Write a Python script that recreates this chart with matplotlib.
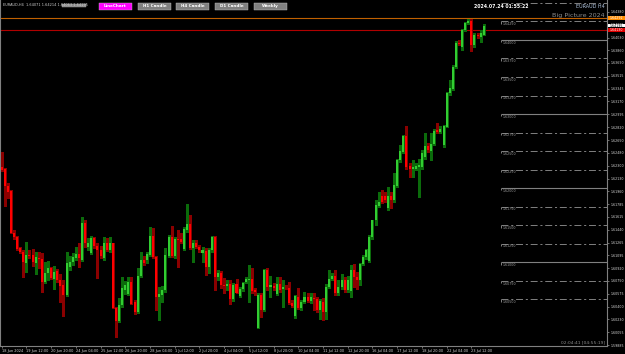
import numpy as np
import matplotlib.pyplot as plt
from matplotlib.patches import Rectangle

plt.rcParams['font.family'] = 'DejaVu Sans'
plt.rcParams['lines.scale_dashes'] = False

# EURAUD H4 candles, 18 Jun 2024 04:00 onwards
opens = [1.62286, 1.62259, 1.62033, 1.61961, 1.61399, 1.61336, 1.61197, 1.61143, 1.60994, 1.61098,
         1.61093, 1.60985, 1.61062, 1.61039, 1.60738, 1.60850, 1.60927, 1.60769, 1.60886, 1.60760,
         1.60693, 1.60558, 1.60931, 1.61008, 1.61053, 1.61111, 1.61030, 1.61534, 1.61201, 1.61120,
         1.61332, 1.61224, 1.61165, 1.61053, 1.61255, 1.61165, 1.61255, 1.60387, 1.60211, 1.60423,
         1.60634, 1.60580, 1.60729, 1.60468, 1.60333, 1.60814, 1.61030, 1.61030, 1.61098, 1.61354,
         1.61066, 1.60535, 1.60558, 1.60625, 1.61084, 1.61345, 1.61084, 1.61309, 1.61309, 1.61174,
         1.61435, 1.61516, 1.61197, 1.61255, 1.61210, 1.61121, 1.61157, 1.60932, 1.61166, 1.61346,
         1.60797, 1.60851, 1.60694, 1.60680, 1.60707, 1.60505, 1.60707, 1.60545, 1.60635, 1.60739,
         1.60761, 1.60775, 1.60626, 1.60118, 1.60559, 1.60356, 1.60896, 1.60671, 1.60685, 1.60572,
         1.60703, 1.60635, 1.60671, 1.60658, 1.60455, 1.60275, 1.60536, 1.60379, 1.60469, 1.60536,
         1.60482, 1.60514, 1.60505, 1.60356, 1.60469, 1.60334, 1.60662, 1.60775, 1.60815, 1.60581,
         1.60662, 1.60761, 1.60626, 1.60615, 1.60894, 1.60804, 1.60768, 1.60984, 1.61074, 1.61020,
         1.61344, 1.61569, 1.61763, 1.61893, 1.61893, 1.61727, 1.61893, 1.61839, 1.62032, 1.62379,
         1.62491, 1.62703, 1.62298, 1.62266, 1.62266, 1.62289, 1.62289, 1.62424, 1.62568, 1.62505,
         1.62595, 1.62784, 1.62761, 1.62581, 1.62829, 1.63279, 1.63338, 1.63639, 1.63963, 1.63909,
         1.64134, 1.64228, 1.64258, 1.63932, 1.64067, 1.64044, 1.64071]
highs = [1.62489, 1.62273, 1.62065, 1.61975, 1.61435, 1.61354, 1.61210, 1.61165, 1.61269, 1.61165,
         1.61174, 1.61143, 1.61134, 1.61129, 1.60999, 1.61017, 1.60940, 1.60954, 1.60904, 1.60841,
         1.60760, 1.61143, 1.61084, 1.61129, 1.61210, 1.61255, 1.61615, 1.61570, 1.61323, 1.61354,
         1.61345, 1.61255, 1.61219, 1.61345, 1.61323, 1.61345, 1.61264, 1.60400, 1.60513, 1.60805,
         1.60751, 1.60805, 1.60805, 1.60490, 1.60918, 1.61143, 1.61084, 1.61143, 1.61471, 1.61467,
         1.61084, 1.60670, 1.60679, 1.61188, 1.61368, 1.61489, 1.61345, 1.61435, 1.61390, 1.61471,
         1.61782, 1.61638, 1.61300, 1.61300, 1.61233, 1.61211, 1.61189, 1.61189, 1.61355, 1.61355,
         1.60896, 1.60887, 1.60783, 1.60761, 1.60761, 1.60716, 1.60770, 1.60671, 1.60738, 1.60806,
         1.60964, 1.60919, 1.60649, 1.60581, 1.60581, 1.60905, 1.60919, 1.60815, 1.60716, 1.60806,
         1.60806, 1.60761, 1.60694, 1.60734, 1.60491, 1.60559, 1.60649, 1.60491, 1.60604, 1.60581,
         1.60581, 1.60581, 1.60536, 1.60500, 1.60514, 1.60707, 1.60896, 1.60851, 1.60896, 1.60761,
         1.60842, 1.60806, 1.60815, 1.60962, 1.60984, 1.60872, 1.60997, 1.61097, 1.61187, 1.61367,
         1.61578, 1.61839, 1.61952, 1.61974, 1.61952, 1.62019, 1.61952, 1.62199, 1.62401, 1.62581,
         1.62717, 1.62838, 1.62334, 1.62379, 1.62334, 1.62401, 1.62514, 1.62739, 1.62604, 1.62739,
         1.62793, 1.62874, 1.62838, 1.62851, 1.63302, 1.63459, 1.63662, 1.63990, 1.63999, 1.64143,
         1.64246, 1.64288, 1.64280, 1.64089, 1.64098, 1.64134, 1.64214]
lows = [1.62232, 1.61764, 1.61868, 1.61390, 1.61309, 1.61165, 1.61129, 1.60805, 1.60873, 1.61053,
        1.60954, 1.60841, 1.60918, 1.60603, 1.60724, 1.60760, 1.60769, 1.60639, 1.60738, 1.60468,
        1.60279, 1.60549, 1.60895, 1.60963, 1.61030, 1.60940, 1.61021, 1.61210, 1.61165, 1.61111,
        1.61188, 1.60783, 1.61053, 1.61030, 1.61156, 1.61143, 1.60378, 1.59995, 1.60198, 1.60400,
        1.60571, 1.60558, 1.60436, 1.60310, 1.60319, 1.60796, 1.60963, 1.60985, 1.61084, 1.61053,
        1.60364, 1.60220, 1.60468, 1.60603, 1.61066, 1.61075, 1.61053, 1.60940, 1.61255, 1.61165,
        1.61413, 1.61174, 1.61008, 1.61188, 1.61143, 1.61008, 1.60828, 1.60851, 1.61144, 1.60626,
        1.60761, 1.60649, 1.60581, 1.60626, 1.60437, 1.60482, 1.60581, 1.60527, 1.60617, 1.60716,
        1.60469, 1.60581, 1.60559, 1.60109, 1.60266, 1.60347, 1.60626, 1.60536, 1.60626, 1.60559,
        1.60604, 1.60401, 1.60635, 1.60437, 1.60401, 1.60244, 1.60365, 1.60356, 1.60446, 1.60469,
        1.60455, 1.60356, 1.60334, 1.60230, 1.60221, 1.60230, 1.60649, 1.60761, 1.60559, 1.60559,
        1.60644, 1.60604, 1.60604, 1.60534, 1.60669, 1.60647, 1.60694, 1.60962, 1.61052, 1.61007,
        1.61322, 1.61502, 1.61749, 1.61803, 1.61817, 1.61713, 1.61727, 1.61817, 1.62019, 1.62356,
        1.62478, 1.62266, 1.62154, 1.62154, 1.62244, 1.61884, 1.62266, 1.62401, 1.62491, 1.62379,
        1.62581, 1.62739, 1.62748, 1.62559, 1.62820, 1.63257, 1.63324, 1.63617, 1.63932, 1.63864,
        1.64125, 1.64215, 1.63855, 1.63909, 1.64022, 1.63977, 1.64063]
closes = [1.62246, 1.62033, 1.61952, 1.61399, 1.61336, 1.61174, 1.61143, 1.60999, 1.61098, 1.61084,
          1.61008, 1.61066, 1.61039, 1.60738, 1.60859, 1.60927, 1.60783, 1.60873, 1.60760, 1.60679,
          1.60558, 1.60985, 1.61008, 1.61066, 1.61111, 1.61053, 1.61525, 1.61255, 1.61255, 1.61332,
          1.61219, 1.61165, 1.61084, 1.61255, 1.61165, 1.61255, 1.60387, 1.60211, 1.60423, 1.60657,
          1.60693, 1.60729, 1.60445, 1.60333, 1.60814, 1.61030, 1.60994, 1.61111, 1.61354, 1.61066,
          1.60535, 1.60571, 1.60634, 1.61093, 1.61345, 1.61084, 1.61309, 1.61300, 1.61278, 1.61453,
          1.61516, 1.61188, 1.61255, 1.61201, 1.61165, 1.61166, 1.60932, 1.61166, 1.61346, 1.60797,
          1.60860, 1.60694, 1.60680, 1.60707, 1.60505, 1.60694, 1.60590, 1.60635, 1.60716, 1.60770,
          1.60775, 1.60617, 1.60604, 1.60559, 1.60356, 1.60896, 1.60671, 1.60694, 1.60658, 1.60707,
          1.60626, 1.60671, 1.60662, 1.60446, 1.60415, 1.60545, 1.60379, 1.60469, 1.60536, 1.60482,
          1.60527, 1.60505, 1.60356, 1.60482, 1.60334, 1.60662, 1.60775, 1.60820, 1.60581, 1.60662,
          1.60761, 1.60626, 1.60761, 1.60894, 1.60804, 1.60759, 1.60984, 1.61074, 1.61164, 1.61344,
          1.61569, 1.61772, 1.61817, 1.61817, 1.61839, 1.61893, 1.61839, 1.62041, 1.62379, 1.62505,
          1.62703, 1.62289, 1.62266, 1.62289, 1.62298, 1.62311, 1.62478, 1.62568, 1.62514, 1.62595,
          1.62775, 1.62761, 1.62793, 1.62838, 1.63279, 1.63347, 1.63639, 1.63963, 1.63945, 1.64134,
          1.64224, 1.64262, 1.63932, 1.64067, 1.64053, 1.64089, 1.64195]

date_labels = ['18 Jun 2024', '19 Jun 12:00', '20 Jun 20:00', '24 Jun 04:00', '25 Jun 12:00',
               '26 Jun 20:00', '28 Jun 04:00', '1 Jul 12:00', '2 Jul 20:00', '4 Jul 04:00',
               '5 Jul 12:00', '8 Jul 20:00', '10 Jul 04:00', '11 Jul 12:00', '12 Jul 20:00',
               '16 Jul 04:00', '17 Jul 12:00', '18 Jul 20:00', '22 Jul 04:00', '23 Jul 12:00']
price_ticks = [1.64380, 1.64205, 1.64030, 1.63860, 1.63690, 1.63515, 1.63345, 1.63170, 1.62995,
               1.62820, 1.62650, 1.62480, 1.62300, 1.62130, 1.61960, 1.61785, 1.61615, 1.61440,
               1.61265, 1.61095, 1.60920, 1.60750, 1.60575, 1.60400, 1.60230, 1.60055, 1.59885]
solid_levels = [1.64000, 1.63000, 1.62000, 1.61000]
dash_levels = [1.64250, 1.63750, 1.63500, 1.63250, 1.62750, 1.62500, 1.62250,
               1.61750, 1.61500, 1.61250, 1.60750, 1.60500]
top_level = 1.64500
orange_level = 1.64292
red_level = 1.64130

BULL, BEAR = '#32cd32', '#ff0000'
BULL_WICK, BEAR_WICK = '#0b6b0b', '#8b0000'
GRID = '#808080'

fig = plt.figure(figsize=(6.25, 3.54), dpi=100, facecolor='black')
ax = fig.add_axes([0, 8 / 354, 607 / 625, 346 / 354], facecolor='black')
ax.set_xlim(-0.54, 195.9)
ax.set_ylim(1.59872, 1.64539)

n = len(closes)
idx = np.arange(n)
o = np.array(opens)
c = np.array(closes)
up = c >= o
ax.vlines(idx, lows, highs, colors=np.where(up, BULL_WICK, BEAR_WICK),
          linewidth=0.8, antialiased=False, zorder=3)
ax.bar(idx, np.maximum(np.abs(c - o), 0.00008), bottom=np.minimum(o, c), width=0.66,
       color=np.where(up, BULL, BEAR), linewidth=0, antialiased=False, zorder=4)

# round-number levels on the right side
x0 = 161.5
for lv in solid_levels:
    ax.hlines(lv, x0, 196, colors=GRID, linewidth=0.8, zorder=2)
for lv in dash_levels + [top_level]:
    ax.hlines(lv, x0, 196, colors=GRID, linewidth=0.7,
              linestyles=(0, (5, 2, 1.5, 2)), zorder=2)
for lv in solid_levels + dash_levels:
    ax.vlines(x0, lv - 0.0003, lv, colors=GRID, linewidth=0.7, zorder=2)
    ax.text(x0 + 0.5, lv - 0.00008, f'{lv:.5f}', fontsize=2.3, color='#a0a0a0',
            va='top', ha='left', zorder=2)

ax.axhline(orange_level, color='#c06000', linewidth=0.8, zorder=2)
ax.axhline(red_level, color='#b00000', linewidth=0.8, zorder=2)

for side in ['left', 'right', 'bottom']:
    ax.spines[side].set_color(GRID)
    ax.spines[side].set_linewidth(0.8)
ax.spines['top'].set_visible(False)

ax.yaxis.tick_right()
ax.set_yticks(price_ticks)
ax.set_yticklabels([f'{p:.5f}' for p in price_ticks])
ax.tick_params(axis='y', colors=GRID, labelcolor='#d8d8d8', labelsize=2.3,
               length=1.5, width=0.6, pad=1)
ax.set_xticks(range(0, n, 8))
ax.set_xticklabels(date_labels, ha='left')
ax.tick_params(axis='x', colors=GRID, labelcolor='#d8d8d8', labelsize=2.5,
               length=1.5, width=0.6, pad=0.8)

# price tags on the axis
trans = ax.get_yaxis_transform()
for price, fc, tc in [(orange_level, '#ff8c00', 'white'),
                      (closes[-1], 'white', 'black'),
                      (red_level, '#e00000', 'white')]:
    ax.add_patch(Rectangle((1.002, price - 0.00026), 0.04, 0.00052, transform=trans,
                           facecolor=fc, edgecolor='none', clip_on=False, zorder=6))
    ax.text(1.005, price, f'{price:.5f}', transform=trans, fontsize=2.3, color=tc,
            va='center', ha='left', zorder=7, clip_on=False)

# overlay in pixel coordinates for header, buttons and info texts
ov = fig.add_axes([0, 0, 1, 1], facecolor='none')
ov.set_xlim(0, 625)
ov.set_ylim(354, 0)
ov.axis('off')

ov.text(3, 5.5, 'EURAUD,H4  1.64071 1.64214 1.64063 1.64195', fontsize=2.5,
        color='#d0d0d0', va='center', ha='left')
ov.add_patch(Rectangle((62, 4), 24, 3, facecolor='#8a8a8a', edgecolor='#b0b0b0', linewidth=0.3))

buttons = ['LineChart', 'H1 Candle', 'H4 Candle', 'D1 Candle', 'Weekly']
button_colors = ['#ff00ff', '#808080', '#808080', '#808080', '#808080']
bx = [99, 138, 176, 215, 254]
for name, col, x in zip(buttons, button_colors, bx):
    ov.add_patch(Rectangle((x, 2.5), 33, 7, facecolor=col, edgecolor='#c0c0c0', linewidth=0.3))
    ov.text(x + 16.5, 6.2, name, fontsize=3, color='white', fontweight='bold',
            ha='center', va='center')

ov.text(528, 6, '2024.07.24 01:55:22', fontsize=3.3, color='white', fontweight='bold',
        ha='right', va='center')
ov.text(605, 6.5, 'EURAUD H4', fontsize=3.5, color='#b0c4de', ha='right', va='center')
ov.text(605, 15.5, 'Big Picture 2024', fontsize=4.6, color='#8c8c8c', ha='right', va='center')
ov.text(605, 342.5, '02:04:41 [04:55:19]', fontsize=3.2, color='#8c8c8c', ha='right', va='center')

fig.savefig('out.png', dpi=100, facecolor='black')
